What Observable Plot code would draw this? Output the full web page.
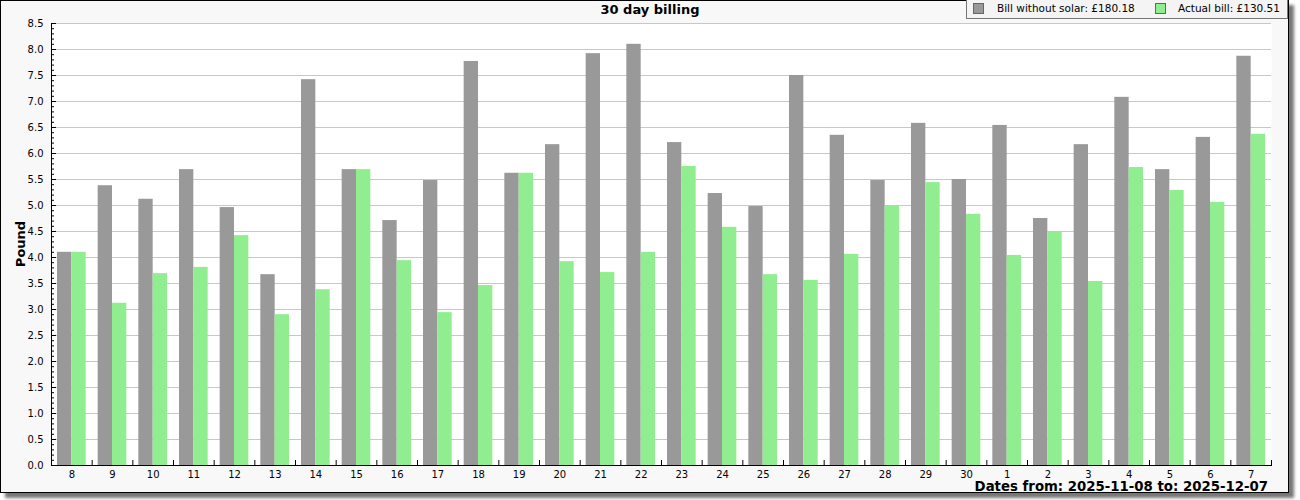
<!DOCTYPE html>
<html>
<head>
<meta charset="utf-8">
<script src="https://cdn.jsdelivr.net/npm/d3@7"></script>
<script src="https://cdn.jsdelivr.net/npm/@observablehq/plot@0.6"></script>
<style>
  body { margin:0; width:1300px; height:500px; position:relative; background:#fff; overflow:hidden; font-family:"DejaVu Sans", sans-serif; color:#000; }
  #frame { position:absolute; left:0; top:0; width:1287px; height:491px; border:1px solid #000; background:#f8f8f8; box-shadow:5px 5px 3px #777; }
  #chart { position:absolute; left:0; top:0; }
  #title { position:absolute; left:0; top:2px; width:1300px; text-align:center; font-weight:bold; font-size:13px; }
  #legend { position:absolute; left:966px; top:-1px; width:320px; height:18px; border:1px solid #777; background:#f4f4f4; font-size:10.5px; }
  #legend .sw { position:absolute; top:3px; width:9px; height:9px; border:1px solid #666; }
  #legend .lt { position:absolute; top:2px; white-space:nowrap; }
  #ylabel { position:absolute; left:20px; top:244px; transform:translate(-50%,-50%) rotate(-90deg); font-weight:bold; font-size:13px; white-space:nowrap; }
  #caption { position:absolute; right:32px; top:480px; line-height:1; font-weight:bold; font-size:13.3px; white-space:nowrap; }
</style>
</head>
<body>
<div id="frame"></div>
<div id="chart"></div>
<div id="title">30 day billing</div>
<div id="legend"></div>
<div id="ylabel">Pound</div>
<div id="caption">Dates from: 2025-11-08 to: 2025-12-07</div>
<script>
// Data
const days = ["8","9","10","11","12","13","14","15","16","17","18","19","20","21","22","23","24","25","26","27","28","29","30","1","2","3","4","5","6","7"];
const withoutSolar = [4.10,5.38,5.12,5.69,4.96,3.67,7.42,5.69,4.71,5.48,7.77,5.62,6.17,7.92,8.10,6.21,5.23,4.98,7.50,6.35,5.48,6.58,5.50,6.54,4.75,6.17,7.08,5.69,6.31,7.87];
const actualBill   = [4.10,3.12,3.69,3.81,4.42,2.90,3.38,5.69,3.94,2.94,3.46,5.62,3.92,3.71,4.10,5.75,4.58,3.67,3.56,4.06,5.00,5.44,4.83,4.04,4.50,3.54,5.73,5.29,5.06,6.37];
const seriesNames = ["Bill without solar: £180.18", "Actual bill: £130.51"];
const seriesColors = ["#999999", "#90ee90"];
const yTicks = [0,0.5,1,1.5,2,2.5,3,3.5,4,4.5,5,5.5,6,6.5,7,7.5,8,8.5];
const yMinor = d3.range(0, 86).map(i => i / 10);

const W = 1300, H = 500, ML = 51, MR = 29, MT = 23, MB = 35;
const step = (W - ML - MR) / days.length;
const gap = step * 0.1475;           // outer gap of each group
const half = (step - 2 * gap) / 2;   // width of one bar
const rows = days.map((d, i) => ({day: d, without: withoutSolar[i], actual: actualBill[i]}));

const chart = Plot.plot({
  width: W, height: H,
  marginLeft: ML, marginRight: MR, marginTop: MT, marginBottom: MB,
  style: {background: "transparent", fontFamily: "DejaVu Sans, sans-serif", fontSize: "10px", color: "#000", overflow: "visible"},
  x: {type: "band", domain: days, padding: 0, round: false},
  y: {domain: [0, 8.5]},
  marks: [
    Plot.frame({fill: "white", stroke: "none"}),
    Plot.gridY(yTicks, {stroke: "#c8c8c8", strokeOpacity: 1}),
    Plot.barY(rows, {x: "day", y: "without", fill: seriesColors[0], insetLeft: gap, insetRight: gap + half}),
    Plot.barY(rows, {x: "day", y: "actual", fill: seriesColors[1], insetLeft: gap + half, insetRight: gap}),
    Plot.axisY({ticks: yTicks, tickSize: 0, tickPadding: 8, tickFormat: d3.format(".1f"), label: null}),
    Plot.axisY({ticks: yMinor, tickSize: -3, text: null, label: null}),
    Plot.axisY({ticks: yTicks, tickSize: -5, text: null, label: null}),
    Plot.axisX({tickSize: 0, tickPadding: 5, label: null}),
    Plot.axisX(days, {tickSize: -5, text: null, label: null, dx: -step / 2}),
    Plot.axisX([days[days.length - 1]], {tickSize: -5, text: null, label: null, dx: step / 2}),
    Plot.frame({anchor: "left", stroke: "#000"}),
    Plot.frame({anchor: "bottom", stroke: "#000"})
  ]
});
document.getElementById("chart").appendChild(chart);

// Legend
const legend = document.getElementById("legend");
const swX = [6, 188], txX = [30, 211];
seriesNames.forEach((name, i) => {
  const sw = document.createElement("span");
  sw.className = "sw"; sw.style.left = swX[i] + "px"; sw.style.background = seriesColors[i];
  const t = document.createElement("span");
  t.className = "lt"; t.style.left = txX[i] + "px"; t.textContent = name;
  legend.appendChild(sw); legend.appendChild(t);
});
</script>
</body>
</html>
